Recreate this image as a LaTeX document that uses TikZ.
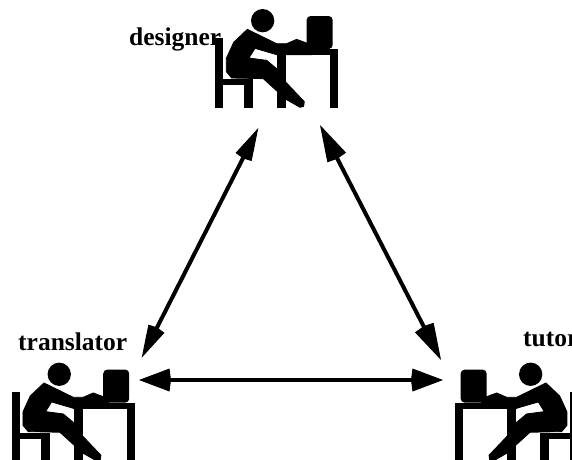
\documentclass[tikz,border=0pt]{standalone}
\usepackage{fontspec}
\setmainfont{Liberation Serif}
\usetikzlibrary{arrows.meta}
\tikzset{
  lbl/.style={font=\fontsize{25.5}{25.5}\selectfont\bfseries,inner sep=0pt,anchor=base west,text=black},
  link/.style n args={2}{line width=4pt,draw=black,{Kite[length=#1,width=#2,inset=1.5pt,line width=1pt]}-{Kite[length=#1,width=#2,inset=1.5pt,line width=1pt]}},
  person/.pic={
    % coordinates are 3x pixels of the designer crop
    \begin{scope}[x=0.3333pt,y=-0.3333pt,fill=black,draw=none]
      \fill (428,62) circle (35);
      \fill (285,115) rectangle (310,323);
      \fill (310,238) rectangle (400,255);
      \fill (372,238) rectangle (400,323);
      \fill (470,147) rectangle (655,165);
      \fill (472,147) rectangle (498,323);
      \fill (630,147) rectangle (655,323);
      \fill[rounded corners=4pt] (560,147) -- (560,48) -- (638,48) -- (638,147) -- cycle;
      \filldraw[draw=black,line width=0.8pt,line join=round]
        (382,88) -- (470,131) -- (500,131) -- (530,118) -- (565,131) -- (576,141) -- (576,164)
        -- (470,164) -- (405,145) -- (387,174) -- (440,181) -- (470,206) -- (498,247) -- (553,305)
        -- (551,319) -- (540,322) -- (498,298) -- (430,236) -- (335,234) -- (319,215) -- (319,175)
        -- (341,127) -- cycle;
    \end{scope}
  }
}
\begin{document}
\begin{tikzpicture}[x=1pt,y=-1pt]
\useasboundingbox (0,0) rectangle (572,459);
\clip (0,0) rectangle (572,459);
\pic (pd) at (120,0) {person};
\pic (pl) at (-83.4,353.6) {person};
\pic[xscale=-1] (pr) at (673.3,353.6) {person};
\node[lbl] (designer) at (129,45) {designer};
\node[lbl] (translator) at (18,350.7) {translator};
\node[lbl] (tutor) at (523,346.7) {tutor};
\coordinate (dl) at (258.3,128);
\coordinate (dr) at (320,125);
\coordinate (lu) at (141.7,357.7);
\coordinate (lh) at (139,380);
\coordinate (ru) at (441,360);
\coordinate (rh) at (443,380);
\draw[link={32pt}{23pt}] (lh) -- (rh);
\draw[link={34pt}{18pt}] (dl) -- (lu);
\draw[link={38pt}{21pt}] (dr) -- (ru);
\end{tikzpicture}
\end{document}
